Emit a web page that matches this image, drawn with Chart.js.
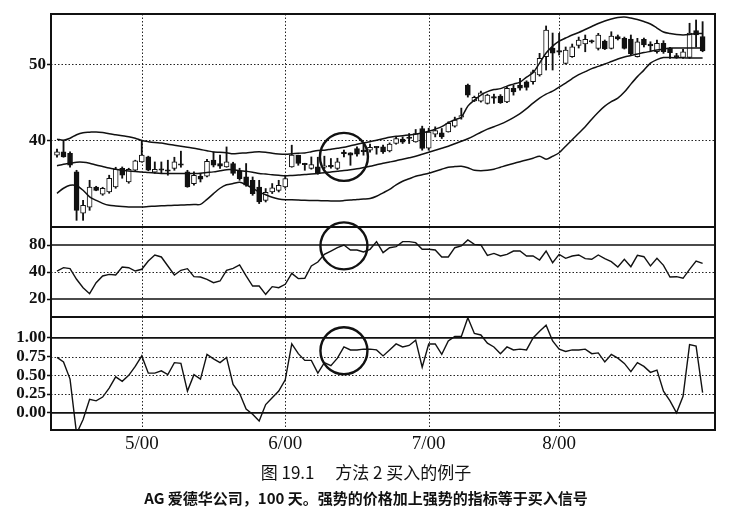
<!DOCTYPE html>
<html>
<head>
<meta charset="utf-8">
<script src="https://cdn.jsdelivr.net/npm/chart.js@4.4.1/dist/chart.umd.min.js"></script>
<style>
    html, body { margin: 0; padding: 0; background: #fff; }
    #wrap { position: relative; width: 732px; height: 517px; overflow: hidden; }
    .layer { position: absolute; left: 0; top: 0; width: 732px; height: 517px; }
    .caption { position: absolute; left: 0; width: 732px; text-align: center; color: #111;
               font-family: "Noto Sans CJK SC", sans-serif; white-space: pre; }
    #title { top: 459px; font-size: 17px; }
    #subtitle { top: 487px; font-size: 15px; font-weight: bold; }
</style>
</head>
<body>
<div id="wrap">
    <div class="layer"><canvas id="priceChart"></canvas></div>
    <div class="layer"><canvas id="mfiChart"></canvas></div>
    <div class="layer"><canvas id="pctbChart"></canvas></div>
    <div class="caption" id="title">图 19.1　 方法 2 买入的例子</div>
    <div class="caption" id="subtitle">AG 爱德华公司，100 天。强势的价格加上强势的指标等于买入信号</div>
</div>
<script>
// trading days 0..99, month starts fall on these days
const monthTicks = [13, 35, 57, 77];
const monthLabels = ['5/00', '6/00', '7/00', '8/00'];

const priceOpen = [
    38.02, 38.45, 38.28, 35.81, 30.36, 31.15, 33.83, 32.87, 33.17, 33.83,
    36.30, 34.49, 36.03, 37.13, 37.79, 35.77, 36.23, 36.03, 36.26, 36.89,
    35.81, 34.28, 35.24, 35.24, 37.36, 36.92, 36.47, 36.92, 35.94, 35.15,
    34.71, 33.83, 32.07, 33.17, 33.39, 33.83, 36.47, 38.02, 36.92, 36.26,
    36.47, 36.43, 36.69, 36.26, 38.28, 38.32, 38.90, 38.61, 38.68, 39.11,
    39.11, 38.59, 39.56, 40.16, 40.36, 39.77, 41.54, 38.94, 40.79, 40.96,
    41.09, 41.85, 43.04, 47.27, 45.19, 45.15, 44.85, 45.68, 45.81, 45.06,
    46.83, 47.27, 47.70, 47.70, 48.59, 51.00, 52.15, 51.76, 50.11, 51.00,
    52.48, 52.68, 53.01, 52.11, 53.08, 52.11, 53.67, 53.43, 53.34, 51.00,
    53.30, 52.68, 51.66, 52.77, 52.11, 51.16, 50.92, 50.92, 54.46, 53.67
];
const priceHigh = [
    38.81, 40.00, 38.45, 36.03, 32.07, 34.71, 33.92, 33.79, 35.38, 36.43,
    36.47, 36.30, 37.36, 40.00, 37.89, 37.13, 37.13, 37.36, 37.75, 38.55,
    36.03, 35.81, 35.64, 37.49, 38.45, 38.02, 39.11, 37.09, 36.30, 36.92,
    35.15, 34.71, 33.62, 34.28, 34.71, 35.38, 39.34, 38.02, 36.96, 37.79,
    37.75, 37.89, 37.58, 37.62, 38.68, 38.35, 39.11, 39.60, 39.47, 39.14,
    39.34, 39.64, 40.39, 40.43, 40.88, 41.41, 41.85, 41.58, 41.76, 41.54,
    42.42, 43.04, 44.23, 47.40, 45.81, 46.47, 46.07, 46.07, 46.01, 47.04,
    47.27, 48.15, 47.83, 49.25, 51.45, 55.06, 54.13, 54.09, 52.29, 52.68,
    53.60, 53.87, 53.21, 54.09, 53.21, 54.30, 53.87, 53.60, 53.87, 53.43,
    53.47, 52.98, 53.21, 53.12, 52.25, 51.45, 51.98, 55.42, 55.85, 55.63
];
const priceLow = [
    37.75, 37.75, 36.43, 29.43, 29.43, 30.75, 33.33, 32.73, 33.00, 33.66,
    34.98, 34.32, 35.90, 37.09, 35.97, 35.64, 35.64, 35.38, 36.03, 36.43,
    33.79, 34.05, 34.49, 35.15, 36.47, 36.26, 36.43, 35.38, 34.71, 33.92,
    32.73, 31.64, 31.85, 32.96, 33.17, 33.66, 36.43, 36.69, 36.03, 36.17,
    35.51, 36.26, 36.30, 36.13, 37.79, 36.69, 37.89, 38.02, 38.41, 38.15,
    38.24, 38.45, 39.47, 39.56, 39.56, 39.73, 38.68, 38.68, 40.43, 40.22,
    41.06, 41.72, 42.77, 45.68, 45.09, 45.02, 44.76, 44.85, 44.85, 44.93,
    45.94, 46.60, 46.60, 47.40, 48.45, 49.25, 49.25, 51.23, 50.04, 50.92,
    52.15, 51.66, 52.81, 51.89, 51.95, 52.02, 53.21, 52.02, 51.23, 50.96,
    52.29, 51.66, 51.49, 51.45, 50.79, 50.79, 50.79, 50.79, 52.29, 51.66
];
const priceClose = [
    38.45, 37.79, 36.69, 30.75, 31.41, 33.83, 33.39, 33.66, 34.98, 36.17,
    35.38, 36.17, 37.26, 38.02, 36.03, 36.17, 36.03, 35.90, 37.13, 36.69,
    33.83, 35.38, 34.85, 37.22, 36.69, 36.56, 37.13, 35.60, 34.94, 34.05,
    32.96, 31.85, 33.13, 33.70, 34.05, 34.94, 38.02, 36.92, 36.76, 36.79,
    35.60, 36.63, 36.47, 37.13, 38.22, 38.02, 38.15, 38.48, 39.07, 38.98,
    38.45, 39.47, 40.22, 39.74, 40.22, 40.88, 38.90, 41.06, 41.26, 40.43,
    42.21, 42.64, 43.11, 45.94, 45.64, 46.25, 45.94, 45.55, 44.93, 46.83,
    46.38, 46.87, 46.96, 49.02, 50.79, 54.53, 51.49, 51.62, 51.89, 52.32,
    53.21, 53.30, 52.95, 53.87, 52.02, 53.74, 53.34, 52.11, 51.36, 52.98,
    52.55, 52.42, 52.77, 51.66, 51.53, 50.96, 51.66, 54.13, 53.87, 51.76
];

const upperBand = [
    40.13, 40.00, 40.26, 40.72, 40.99, 41.05, 41.09, 41.01, 40.85, 40.72,
    40.59, 40.46, 40.26, 39.96, 39.80, 39.69, 39.63, 39.47, 39.34, 39.20,
    39.07, 38.94, 38.77, 38.61, 38.45, 38.41, 38.34, 38.21, 38.28, 38.32,
    38.41, 38.48, 38.41, 38.28, 38.19, 38.15, 38.21, 38.28, 38.32, 38.48,
    38.64, 38.67, 38.81, 38.94, 39.07, 39.27, 39.47, 39.64, 39.80, 40.00,
    40.19, 40.39, 40.52, 40.59, 40.68, 40.79, 40.95, 41.18, 41.45, 41.78,
    42.31, 42.70, 43.03, 44.49, 45.28, 45.94, 46.40, 46.67, 46.80, 47.13,
    47.39, 47.66, 48.32, 48.91, 50.17, 51.49, 52.41, 53.07, 53.47, 53.87,
    54.20, 54.59, 54.99, 55.39, 55.72, 55.98, 56.18, 56.24, 56.11, 55.91,
    55.65, 55.32, 54.79, 54.26, 54.06, 53.93, 53.87, 53.93, 54.06, 54.06
];
const middleBand = [
    36.63, 36.83, 36.96, 37.09, 37.09, 36.96, 36.72, 36.52, 36.32, 36.17,
    36.03, 35.94, 35.87, 35.81, 35.73, 35.66, 35.61, 35.61, 35.61, 35.61,
    35.61, 35.61, 35.64, 35.73, 35.82, 35.97, 36.11, 36.10, 35.97, 35.90,
    35.77, 35.61, 35.53, 35.44, 35.37, 35.31, 35.35, 35.40, 35.48, 35.54,
    35.61, 35.70, 35.81, 35.90, 35.99, 36.10, 36.23, 36.39, 36.56, 36.76,
    36.96, 37.12, 37.29, 37.49, 37.68, 37.88, 38.15, 38.41, 38.67, 38.94,
    39.20, 39.53, 39.86, 40.19, 40.59, 41.05, 41.45, 41.78, 42.11, 42.51,
    42.97, 43.50, 44.16, 44.88, 45.54, 46.07, 46.47, 47.00, 47.53, 48.12,
    48.65, 49.04, 49.44, 49.73, 50.04, 50.37, 50.70, 50.96, 51.16, 51.36,
    51.55, 51.71, 51.88, 52.02, 52.15, 52.15, 52.15, 52.15, 52.15, 52.15
];
const lowerBand = [
    32.99, 33.66, 34.05, 33.99, 33.39, 32.53, 32.07, 31.67, 31.41, 31.32,
    31.25, 31.20, 31.19, 31.20, 31.25, 31.30, 31.34, 31.37, 31.41, 31.44,
    31.48, 31.52, 31.54, 32.20, 32.95, 33.66, 34.12, 34.28, 34.45, 34.12,
    33.66, 33.19, 32.80, 32.47, 32.24, 32.14, 32.14, 32.11, 32.07, 32.05,
    32.03, 32.01, 31.99, 31.98, 32.03, 32.10, 32.18, 32.24, 32.31, 32.60,
    33.06, 33.52, 34.12, 34.58, 34.91, 35.24, 35.44, 35.64, 35.90, 36.17,
    36.43, 36.52, 36.56, 36.36, 36.03, 35.97, 36.03, 36.17, 36.43, 36.69,
    36.93, 37.16, 37.39, 37.62, 37.88, 37.49, 37.88, 38.34, 39.20, 40.06,
    40.92, 41.78, 42.77, 43.69, 44.49, 45.08, 45.54, 46.34, 47.39, 48.38,
    49.24, 50.17, 50.63, 50.89, 50.89, 50.87, 50.86, 50.83, 50.83, 50.83
];

const mfiValues = [
    51.1, 54.8, 53.7, 41.9, 32.6, 25.9, 38.1, 45.6, 47.4, 46.7,
    55.6, 54.8, 51.1, 53.0, 62.2, 68.9, 66.7, 56.7, 46.7, 51.9,
    53.7, 44.8, 44.4, 41.9, 38.1, 40.0, 51.9, 54.1, 57.8, 45.6,
    34.4, 34.4, 25.2, 33.7, 32.6, 36.3, 48.5, 42.6, 43.0, 56.7,
    61.1, 69.6, 73.3, 77.0, 80.0, 74.4, 74.4, 72.2, 75.2, 83.7,
    71.5, 77.0, 78.1, 83.7, 83.7, 82.6, 75.2, 75.2, 74.4, 66.7,
    66.7, 77.0, 78.9, 85.6, 80.7, 80.0, 68.5, 70.7, 67.8, 69.6,
    73.3, 73.3, 67.8, 67.8, 63.3, 73.3, 60.4, 69.6, 65.2, 67.8,
    68.9, 64.8, 64.1, 68.9, 64.8, 61.5, 55.6, 64.1, 55.9, 68.5,
    67.0, 56.7, 65.2, 57.4, 44.4, 44.8, 43.0, 53.0, 62.2, 59.6
];
const percentB = [
    0.74, 0.68, 0.45, -0.28, -0.09, 0.18, 0.16, 0.21, 0.33, 0.48,
    0.42, 0.50, 0.62, 0.76, 0.53, 0.53, 0.56, 0.51, 0.67, 0.66,
    0.29, 0.51, 0.45, 0.78, 0.72, 0.67, 0.74, 0.38, 0.26, 0.05,
    -0.02, -0.11, 0.11, 0.20, 0.29, 0.44, 0.92, 0.79, 0.70, 0.70,
    0.53, 0.67, 0.63, 0.73, 0.88, 0.84, 0.84, 0.85, 0.85, 0.84,
    0.76, 0.84, 0.92, 0.88, 0.90, 0.97, 0.61, 0.92, 0.92, 0.78,
    0.96, 1.02, 1.02, 1.27, 1.06, 1.04, 0.93, 0.88, 0.79, 0.88,
    0.84, 0.85, 0.84, 1.00, 1.09, 1.17, 0.96, 0.85, 0.82, 0.84,
    0.84, 0.85, 0.79, 0.80, 0.68, 0.78, 0.73, 0.66, 0.55, 0.67,
    0.62, 0.54, 0.57, 0.29, 0.16, 0.00, 0.22, 0.91, 0.89, 0.27
];

const priceTicks = [40, 50];
const mfiTicks = [20, 50, 80];
const mfiTickLabels = ['20', '40', '80'];
const pctbTicks = [0, 0.25, 0.5, 0.75, 1];

// the circled buy signal
const signalDay = 44;
const signalPrice = 37.8;
const signalMfi = 79;
const signalPctb = 0.83;

const X_MIN = -0.92;
const X_MAX = 100.9;
const INK = '#111';

function xy(values) {
    return values.map((v, i) => ({ x: i, y: v }));
}

function range(a, b) {
    return a.map((v, i) => ({ x: i, y: [v, b[i]] }));
}

const panelPlugin = {
    id: 'panel',
    beforeDatasetsDraw(chart, args, opts) {
        const { ctx, chartArea: a } = chart;
        const x = chart.scales.x;
        const y = chart.scales.y;
        ctx.save();
        ctx.strokeStyle = '#222';
        ctx.lineWidth = 1;
        ctx.setLineDash([1.5, 2]);
        ctx.beginPath();
        (opts.dotted || []).forEach((v) => {
            const py = Math.round(y.getPixelForValue(v)) + 0.5;
            ctx.moveTo(a.left, py);
            ctx.lineTo(a.right, py);
        });
        monthTicks.forEach((m) => {
            const px = Math.round(x.getPixelForValue(m)) + 0.5;
            ctx.moveTo(px, a.top);
            ctx.lineTo(px, a.bottom);
        });
        ctx.stroke();
        ctx.setLineDash([]);
        ctx.strokeStyle = INK;
        ctx.lineWidth = 1.7;
        ctx.beginPath();
        (opts.solid || []).forEach((v) => {
            const py = y.getPixelForValue(v);
            ctx.moveTo(a.left, py);
            ctx.lineTo(a.right, py);
        });
        ctx.stroke();
        ctx.restore();
    },
    afterDatasetsDraw(chart, args, opts) {
        const { ctx, chartArea: a } = chart;
        const x = chart.scales.x;
        const y = chart.scales.y;
        ctx.save();
        ctx.strokeStyle = INK;
        ctx.lineWidth = 2;
        ctx.strokeRect(a.left, a.top, a.right - a.left, a.bottom - a.top);
        ctx.lineWidth = 2.4;
        (opts.circles || []).forEach((c) => {
            ctx.beginPath();
            ctx.arc(x.getPixelForValue(c.x), y.getPixelForValue(c.y), c.r, 0, Math.PI * 2);
            ctx.stroke();
        });
        ctx.restore();
    }
};

function xScale(show) {
    const scale = {
        type: 'linear',
        min: X_MIN,
        max: X_MAX,
        offset: false,
        display: show,
        grid: { display: false, drawTicks: false },
        border: { display: false },
        afterBuildTicks: (axis) => { axis.ticks = monthTicks.map((v) => ({ value: v })); },
        ticks: {
            autoSkip: false,
            maxRotation: 0,
            padding: 3,
            color: INK,
            font: { family: 'Liberation Serif', size: 19 },
            callback: (v) => {
                const k = monthTicks.indexOf(v);
                return k >= 0 ? monthLabels[k] : '';
            }
        }
    };
    if (show) {
        scale.afterFit = (axis) => { axis.height = 28; };
    }
    return scale;
}

function yScale(min, max, tickValues, labelFor) {
    return {
        type: 'linear',
        min: min,
        max: max,
        border: { display: false },
        grid: {
            display: true,
            drawOnChartArea: false,
            drawTicks: true,
            tickLength: 4,
            tickColor: INK,
            tickWidth: 1.5
        },
        afterBuildTicks: (axis) => { axis.ticks = tickValues.map((v) => ({ value: v })); },
        afterFit: (axis) => { axis.width = 51; },
        ticks: {
            padding: 1,
            color: INK,
            font: { family: 'Liberation Serif', size: 17, weight: 'bold' },
            callback: labelFor
        }
    };
}

function baseOptions(padding, scales, panel) {
    return {
        responsive: true,
        maintainAspectRatio: false,
        animation: false,
        events: [],
        layout: { padding: padding },
        scales: scales,
        plugins: {
            legend: { display: false },
            tooltip: { enabled: false },
            panel: panel
        }
    };
}

function lineSet(values, width, tension) {
    return {
        type: 'line',
        data: xy(values),
        borderColor: INK,
        borderWidth: width,
        pointRadius: 0,
        tension: tension,
        fill: false,
        order: 0
    };
}

window.addEventListener('DOMContentLoaded', () => {
    new Chart(document.getElementById('priceChart'), {
        type: 'bar',
        data: {
            datasets: [
                {
                    data: range(priceLow, priceHigh),
                    backgroundColor: INK,
                    borderWidth: 0,
                    barThickness: 1.2,
                    grouped: false,
                    minBarLength: 1,
                    order: 2
                },
                {
                    data: range(priceOpen, priceClose),
                    backgroundColor: (c) => (priceClose[c.dataIndex] >= priceOpen[c.dataIndex] ? '#fff' : INK),
                    borderColor: INK,
                    borderWidth: 1,
                    borderSkipped: false,
                    barThickness: 5,
                    grouped: false,
                    minBarLength: 1.5,
                    order: 1
                },
                lineSet(upperBand, 1.5, 0.3),
                lineSet(middleBand, 1.5, 0.3),
                lineSet(lowerBand, 1.5, 0.3)
            ]
        },
        options: baseOptions(
            { top: 14, bottom: 290, left: 0, right: 17 },
            { x: xScale(false), y: yScale(28.55, 56.64, priceTicks, (v) => String(v)) },
            { dotted: priceTicks, solid: [], circles: [{ x: signalDay, y: signalPrice, r: 24 }] }
        ),
        plugins: [panelPlugin]
    });

    new Chart(document.getElementById('mfiChart'), {
        type: 'line',
        data: { datasets: [lineSet(mfiValues, 1.4, 0)] },
        options: baseOptions(
            { top: 227, bottom: 200, left: 0, right: 17 },
            {
                x: xScale(false),
                y: yScale(0, 100, mfiTicks, (v) => mfiTickLabels[mfiTicks.indexOf(v)])
            },
            { dotted: [50], solid: [80, 20], circles: [{ x: signalDay, y: signalMfi, r: 23.5 }] }
        ),
        plugins: [panelPlugin]
    });

    new Chart(document.getElementById('pctbChart'), {
        type: 'line',
        data: { datasets: [lineSet(percentB, 1.4, 0)] },
        options: baseOptions(
            { top: 317, bottom: 59, left: 0, right: 17 },
            { x: xScale(true), y: yScale(-0.23, 1.28, pctbTicks, (v) => Number(v).toFixed(2)) },
            { dotted: [0.25, 0.5, 0.75], solid: [0, 1], circles: [{ x: signalDay, y: signalPctb, r: 23.5 }] }
        ),
        plugins: [panelPlugin]
    });
});
</script>
</body>
</html>
